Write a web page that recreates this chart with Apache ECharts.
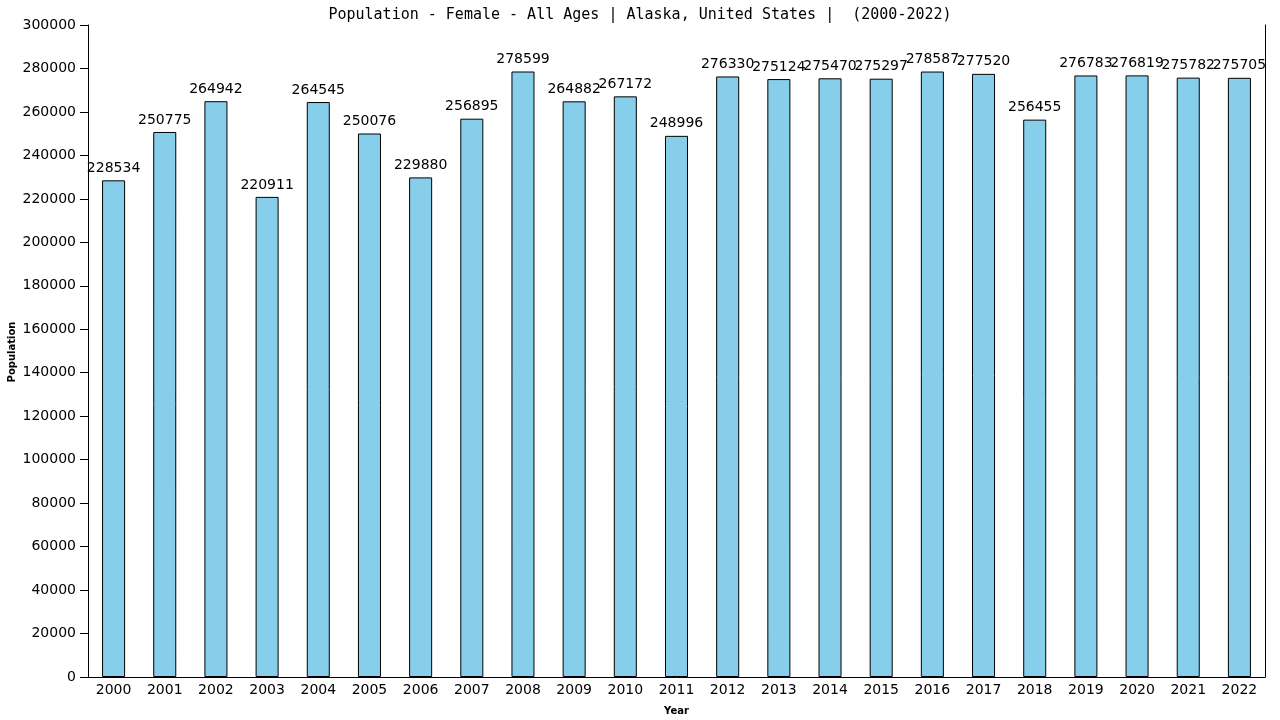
<!DOCTYPE html>
<html>
<head>
<meta charset="utf-8">
<script src="https://cdn.jsdelivr.net/npm/echarts@6/dist/echarts.min.js"></script>
<style>
  html, body { margin: 0; padding: 0; background: #fff; }
  #main { width: 1280px; height: 720px; }
</style>
</head>
<body>
<div id="main"></div>
<script>
// data
const years = ["2000", "2001", "2002", "2003", "2004", "2005", "2006", "2007", "2008", "2009", "2010", "2011",
  "2012", "2013", "2014", "2015", "2016", "2017", "2018", "2019", "2020", "2021", "2022"];
const population = [228534, 250775, 264942, 220911, 264545, 250076, 229880, 256895, 278599, 264882, 267172, 248996,
  276330, 275124, 275470, 275297, 278587, 277520, 256455, 276783, 276819, 275782, 275705];

var myChart = echarts.init(document.getElementById("main"));

var option = {
  animation: false,
  title: {
    text: "Population - Female - All Ages | Alaska, United States |  (2000-2022)",
    left: "center",
    top: 3,
    textStyle: {
      fontFamily: "DejaVu Sans Mono",
      fontWeight: "normal",
      fontSize: 15,
      color: "#000",
    },
  },
  // y axis title placed by hand, the axis name gets pushed to the edge
  graphic: [
    {
      type: "text",
      x: 12,
      y: 352,
      rotation: Math.PI / 2,
      style: {
        text: "Population",
        fontFamily: "DejaVu Sans",
        fontSize: 10,
        fontWeight: "bold",
        fill: "#000",
        align: "center",
        verticalAlign: "middle",
      },
    },
  ],
  grid: {
    left: 88,
    right: 15,
    top: 25,
    bottom: 43,
    containLabel: false,
    outerBoundsMode: "none",
  },
  xAxis: {
    type: "category",
    data: years,
    name: "Year",
    nameLocation: "middle",
    nameGap: 29,
    nameTextStyle: { fontFamily: "DejaVu Sans", fontSize: 10, fontWeight: "bold", color: "#000" },
    axisLine: { lineStyle: { color: "#000", width: 1 } },
    axisTick: { show: false },
    axisLabel: { fontFamily: "DejaVu Sans", fontSize: 14, color: "#000", margin: 6 },
  },
  yAxis: [
    {
      type: "value",
      min: 0,
      max: 300000,
      interval: 20000,
      axisLine: { show: true, lineStyle: { color: "#000", width: 1 } },
      axisTick: { show: true, length: 8, lineStyle: { color: "#000" } },
      axisLabel: {
        fontFamily: "DejaVu Sans",
        fontSize: 14,
        color: "#000",
        margin: 12,
        formatter: function (v) {
          return String(v);
        },
      },
      splitLine: { show: false },
    },
    {
      type: "value",
      position: "right",
      min: 0,
      max: 300000,
      interval: 20000,
      axisLine: { show: true, lineStyle: { color: "#000", width: 1 } },
      axisTick: { show: false },
      axisLabel: { show: false },
      splitLine: { show: false },
    },
  ],
  series: [
    {
      name: "Population",
      type: "bar",
      data: population,
      barWidth: "45%",
      itemStyle: { color: "#87ceeb", borderColor: "#000", borderWidth: 1 },
      label: {
        show: true,
        position: "top",
        distance: 5,
        fontFamily: "DejaVu Sans",
        fontSize: 14,
        color: "#000",
      },
    },
  ],
};

myChart.setOption(option);
</script>
</body>
</html>
